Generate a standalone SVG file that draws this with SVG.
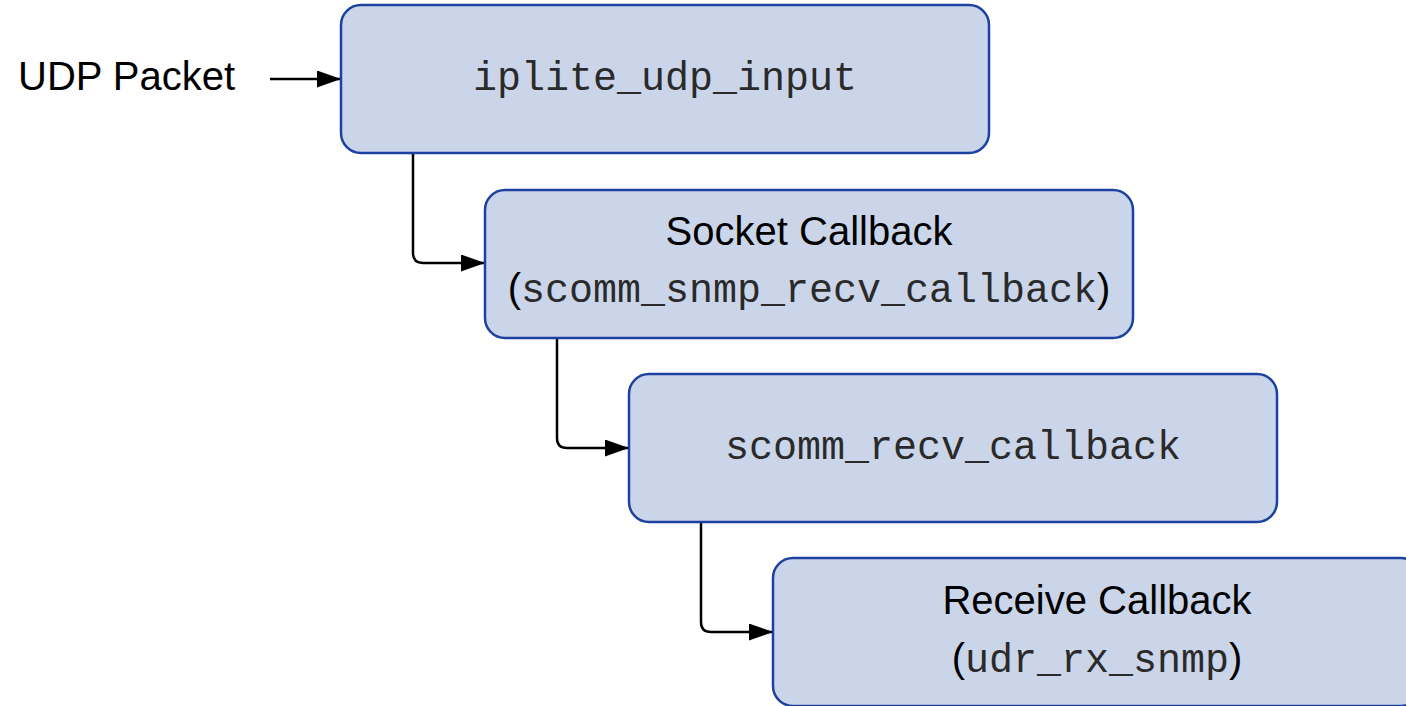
<svg xmlns="http://www.w3.org/2000/svg" width="1406" height="706" viewBox="0 0 1406 706">
<defs>
<style>
.box{fill:#cbd5e9;stroke:#1c42a0;stroke-width:2.5}
.con{fill:none;stroke:#000;stroke-width:2.5}
.sans{font-family:"Liberation Sans",Arial,sans-serif;font-size:40px;fill:#000}
.mono{font-family:"Liberation Mono","Courier New",monospace;font-size:40px;fill:#2a2a2a}
</style>
<marker id="ah" viewBox="0 0 24 17" refX="24" refY="8.5" markerWidth="24" markerHeight="17" markerUnits="userSpaceOnUse" orient="auto">
<path d="M0,0 L24,8.5 L0,17 Z" fill="#000"/>
</marker>
</defs>
<rect width="1406" height="706" fill="#fff"/>
<g id="input-label">
<text class="sans" x="18" y="90">UDP Packet</text>
</g>
<g id="connectors">
<path class="con" d="M270,79 H341" marker-end="url(#ah)"/>
<path class="con" d="M413,153 V253 Q413,263 423,263 H485" marker-end="url(#ah)"/>
<path class="con" d="M557,338 V438 Q557,448 567,448 H629" marker-end="url(#ah)"/>
<path class="con" d="M701,522 V622 Q701,632 711,632 H773" marker-end="url(#ah)"/>
</g>
<g id="node-iplite">
<rect class="box" x="341" y="5" width="648" height="148" rx="20"/>
<text class="mono" x="665" y="90" text-anchor="middle">iplite_udp_input</text>
</g>
<g id="node-socket">
<rect class="box" x="485" y="190" width="648" height="148" rx="20"/>
<text class="sans" x="809" y="245" text-anchor="middle">Socket Callback</text>
<text class="mono" x="809" y="302" text-anchor="middle"><tspan class="sans">(</tspan>scomm_snmp_recv_callback<tspan class="sans">)</tspan></text>
</g>
<g id="node-scomm">
<rect class="box" x="629" y="374" width="648" height="148" rx="20"/>
<text class="mono" x="953" y="459" text-anchor="middle">scomm_recv_callback</text>
</g>
<g id="node-receive">
<rect class="box" x="773" y="558" width="648" height="148" rx="20"/>
<text class="sans" x="1097" y="614" text-anchor="middle">Receive Callback</text>
<text class="mono" x="1097" y="672" text-anchor="middle"><tspan class="sans">(</tspan>udr_rx_snmp<tspan class="sans">)</tspan></text>
</g>
</svg>
